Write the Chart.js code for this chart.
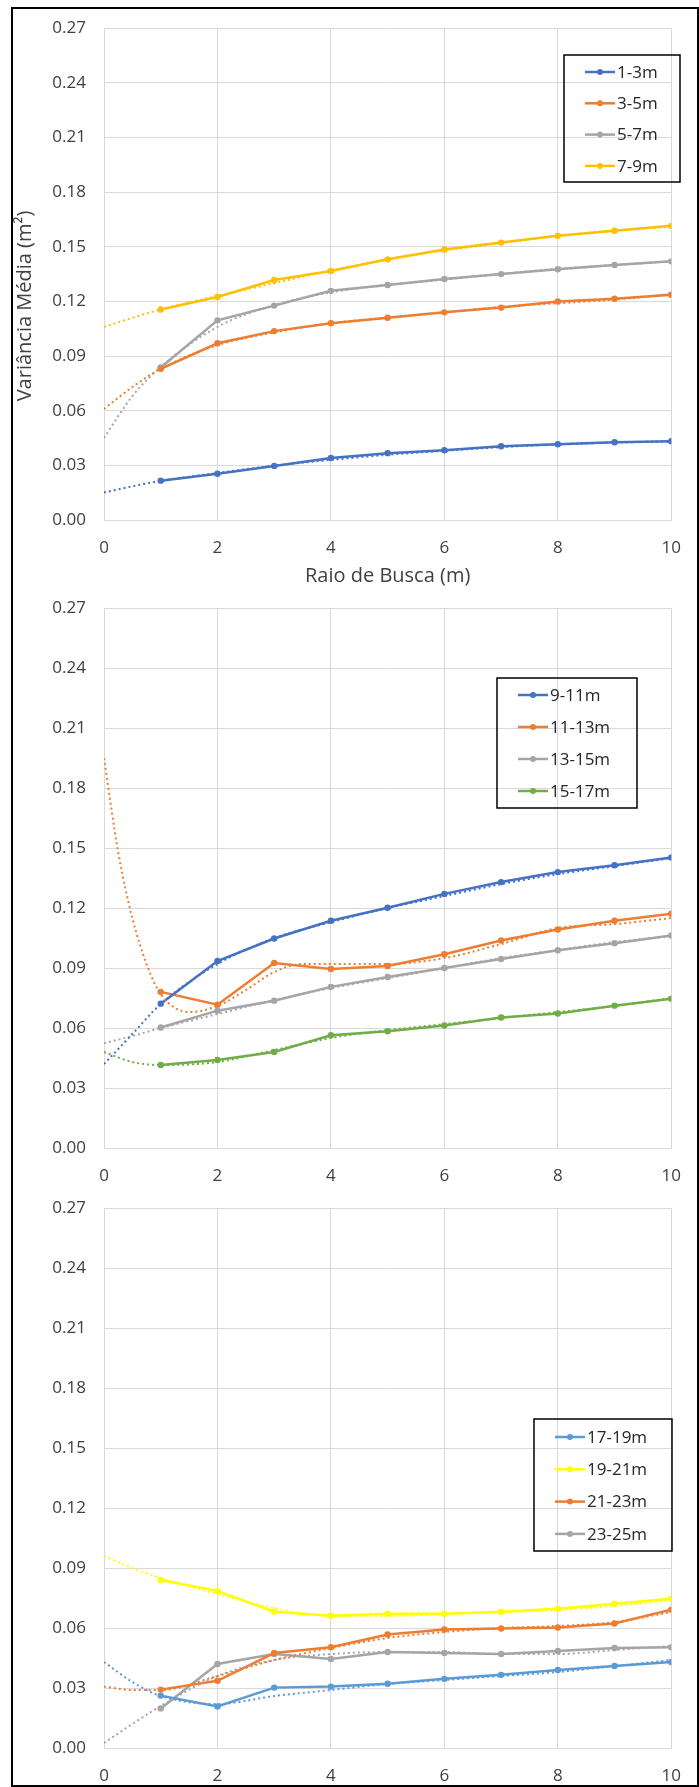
<!DOCTYPE html>
<html>
<head>
<meta charset="utf-8">
<script src="https://cdn.jsdelivr.net/npm/chart.js@4.4.1/dist/chart.umd.min.js"></script>
<style>
    html, body { margin: 0; padding: 0; background: #fff; }
    #page { position: relative; width: 699px; height: 1787px; overflow: hidden; }
    canvas { position: absolute; left: 0; }
    #frame { position: absolute; left: 11px; top: 7px; width: 688px; height: 1780px; border: 2px solid #000; box-sizing: border-box; pointer-events: none; }
</style>
</head>
<body>
<div id="page">
    <canvas id="c1" style="top:0px;width:699px;height:590px" width="699" height="590"></canvas>
    <canvas id="c2" style="top:580px;width:699px;height:620px" width="699" height="620"></canvas>
    <canvas id="c3" style="top:1180px;width:699px;height:607px" width="699" height="607"></canvas>
    <div id="frame"></div>
</div>
<script>
// --- data ---
const radius = [1, 2, 3, 4, 5, 6, 7, 8, 9, 10];
const trendX = [0, 0.5, 1, 2, 3, 4, 5, 6, 7, 8, 9, 10];
const trendXFine = [0, 0.25, 0.5, 0.75, 1, 1.5, 2, 2.5, 3, 3.5, 4, 5, 6, 7, 8, 9, 10];
const xTicks = [0, 2, 4, 6, 8, 10];
const yTicks = [0, 0.03, 0.06, 0.09, 0.12, 0.15, 0.18, 0.21, 0.24, 0.27];

// panel 1
const labels1 = ['1-3m', '3-5m', '5-7m', '7-9m'];
const v1_3 = [0.0216, 0.0254, 0.0297, 0.0340, 0.0367, 0.0383, 0.0405, 0.0416, 0.0427, 0.0432];
const v3_5 = [0.0830, 0.0970, 0.1037, 0.1080, 0.1110, 0.1140, 0.1166, 0.1200, 0.1215, 0.1237];
const v5_7 = [0.0837, 0.1096, 0.1177, 0.1258, 0.1290, 0.1323, 0.1350, 0.1377, 0.1400, 0.1420];
const v7_9 = [0.1156, 0.1224, 0.1318, 0.1367, 0.1431, 0.1485, 0.1523, 0.1560, 0.1588, 0.1615];
const t1_3 = [0.0151, 0.0185, 0.0215, 0.0258, 0.0298, 0.0330, 0.0358, 0.0380, 0.0400, 0.0415, 0.0425, 0.0432];
const t3_5 = [0.0610, 0.0730, 0.0830, 0.0960, 0.1030, 0.1080, 0.1110, 0.1140, 0.1170, 0.1190, 0.1210, 0.1240];
const t5_7 = [0.0450, 0.0680, 0.0840, 0.1060, 0.1180, 0.1250, 0.1290, 0.1320, 0.1350, 0.1380, 0.1400, 0.1420];
const t7_9 = [0.1060, 0.1110, 0.1156, 0.1230, 0.1300, 0.1370, 0.1430, 0.1480, 0.1520, 0.1560, 0.1590, 0.1610];

// panel 2
const labels2 = ['9-11m', '11-13m', '13-15m', '15-17m'];
const v9_11 = [0.0722, 0.0935, 0.1048, 0.1137, 0.1202, 0.1271, 0.1330, 0.1380, 0.1414, 0.1453];
const v11_13 = [0.0781, 0.0717, 0.0925, 0.0895, 0.0910, 0.0969, 0.1038, 0.1093, 0.1137, 0.1172];
const v13_15 = [0.0603, 0.0687, 0.0737, 0.0806, 0.0855, 0.0900, 0.0945, 0.0989, 0.1024, 0.1063];
const v15_17 = [0.0415, 0.0440, 0.0480, 0.0564, 0.0584, 0.0613, 0.0653, 0.0673, 0.0712, 0.0747];
const t9_11 = [0.0420, 0.0570, 0.0720, 0.0920, 0.1050, 0.1130, 0.1200, 0.1260, 0.1320, 0.1370, 0.1410, 0.1450];
const t11_13 = [0.1950, 0.1480, 0.1150, 0.0920, 0.0770, 0.0680, 0.0710, 0.0790, 0.0880, 0.0920, 0.0920, 0.0920, 0.0950, 0.1020, 0.1100, 0.1120, 0.1150];
const t13_15 = [0.0524, 0.0560, 0.0600, 0.0670, 0.0740, 0.0800, 0.0850, 0.0900, 0.0950, 0.0990, 0.1030, 0.1060];
const t15_17 = [0.0480, 0.0430, 0.0415, 0.0430, 0.0490, 0.0550, 0.0590, 0.0620, 0.0650, 0.0680, 0.0710, 0.0750];

// panel 3
const labels3 = ['17-19m', '19-21m', '21-23m', '23-25m'];
const v17_19 = [0.0262, 0.0208, 0.0302, 0.0307, 0.0321, 0.0346, 0.0366, 0.0390, 0.0410, 0.0430];
const v19_21 = [0.0840, 0.0786, 0.0682, 0.0662, 0.0672, 0.0672, 0.0682, 0.0697, 0.0722, 0.0747];
const v21_23 = [0.0292, 0.0336, 0.0475, 0.0504, 0.0568, 0.0593, 0.0598, 0.0603, 0.0623, 0.0692];
const v23_25 = [0.0198, 0.0420, 0.0470, 0.0445, 0.0480, 0.0475, 0.0470, 0.0485, 0.0500, 0.0504];
const t17_19 = [0.0430, 0.0330, 0.0260, 0.0220, 0.0260, 0.0290, 0.0320, 0.0340, 0.0360, 0.0380, 0.0410, 0.0440];
const t19_21 = [0.0960, 0.0900, 0.0850, 0.0770, 0.0700, 0.0660, 0.0660, 0.0670, 0.0680, 0.0690, 0.0710, 0.0740];
const t21_23 = [0.0307, 0.0290, 0.0290, 0.0360, 0.0440, 0.0500, 0.0550, 0.0580, 0.0600, 0.0610, 0.0630, 0.0680];
const t23_25 = [0.0025, 0.0120, 0.0210, 0.0360, 0.0440, 0.0470, 0.0480, 0.0480, 0.0470, 0.0470, 0.0490, 0.0510];

const FONT = '"Open Sans", sans-serif';
const TEXT = '#404040';
const GRID = '#D9D9D9';

function pts(xs, ys) {
    return xs.map((x, i) => ({ x: x, y: ys[i] }));
}

function seriesSet(label, color, values) {
    return {
        label: label,
        data: pts(radius, values),
        borderColor: color,
        backgroundColor: color,
        borderWidth: 2.5,
        pointRadius: 3.2,
        pointBorderWidth: 0,
        tension: 0,
        order: 1
    };
}

function trendSet(color, xs, values) {
    return {
        label: '',
        data: pts(xs, values),
        borderColor: color,
        borderWidth: 2,
        borderDash: [2, 3],
        pointRadius: 0,
        cubicInterpolationMode: 'monotone',
        order: 0
    };
}

// legend box drawn inside the plot, like the Excel one
const boxLegend = {
    id: 'boxLegend',
    afterDatasetsDraw(chart, args, o) {
        const ctx = chart.ctx;
        ctx.save();
        ctx.lineWidth = 1.5;
        ctx.strokeStyle = '#000';
        ctx.strokeRect(o.left, o.top, o.width, o.height);
        ctx.font = '17px ' + FONT;
        ctx.textBaseline = 'middle';
        o.items.forEach((it, i) => {
            const y = o.top + o.first + i * o.gap;
            const x0 = o.left + 21;
            ctx.strokeStyle = it.color;
            ctx.lineWidth = 2.5;
            ctx.beginPath();
            ctx.moveTo(x0, y);
            ctx.lineTo(x0 + 30, y);
            ctx.stroke();
            ctx.fillStyle = it.color;
            ctx.beginPath();
            ctx.arc(x0 + 15, y, 3, 0, Math.PI * 2);
            ctx.fill();
            ctx.fillStyle = '#262626';
            ctx.fillText(it.label, x0 + 32, y + 1);
        });
        ctx.restore();
    }
};

// rotated y title (sits lower than the axis centre in the original)
const yTitle = {
    id: 'yTitle',
    afterDraw(chart, args, o) {
        if (!o.text) return;
        const ctx = chart.ctx;
        ctx.save();
        ctx.translate(o.x, o.y);
        ctx.rotate(-Math.PI / 2);
        ctx.font = '20px ' + FONT;
        ctx.fillStyle = TEXT;
        ctx.textAlign = 'center';
        ctx.textBaseline = 'middle';
        ctx.fillText(o.text, 0, 0);
        ctx.restore();
    }
};

function makeChart(id, datasets, cfg) {
    return new Chart(document.getElementById(id), {
        type: 'line',
        data: { datasets: datasets },
        plugins: [boxLegend, yTitle],
        options: {
            responsive: false,
            animation: false,
            events: [],
            layout: { padding: cfg.padding },
            scales: {
                x: {
                    type: 'linear',
                    min: 0,
                    max: 10,
                    afterBuildTicks: s => { s.ticks = xTicks.map(v => ({ value: v })); },
                    afterFit: s => { s.height = cfg.xHeight; },
                    grid: { color: GRID, lineWidth: 1, drawTicks: false },
                    border: { color: GRID },
                    ticks: { padding: 18, color: TEXT, font: { family: FONT, size: 17 }, maxRotation: 0 },
                    title: {
                        display: !!cfg.xTitle,
                        text: cfg.xTitle || '',
                        color: TEXT,
                        font: { family: FONT, size: 20 },
                        padding: 0
                    }
                },
                y: {
                    type: 'linear',
                    min: 0,
                    max: 0.27,
                    afterBuildTicks: s => { s.ticks = yTicks.map(v => ({ value: v })); },
                    afterFit: s => { s.width = 89; },
                    grid: { color: GRID, lineWidth: 1, drawTicks: false },
                    border: { color: GRID },
                    ticks: {
                        padding: 18,
                        color: TEXT,
                        font: { family: FONT, size: 17 },
                        callback: v => v.toFixed(2)
                    }
                }
            },
            plugins: {
                legend: { display: false },
                tooltip: { enabled: false },
                boxLegend: cfg.legend,
                yTitle: cfg.yTitle || {}
            }
        }
    });
}

const colors1 = ['#4472C4', '#ED7D31', '#A5A5A5', '#FFC000'];
const colors2 = ['#4472C4', '#ED7D31', '#A5A5A5', '#70AD47'];
const colors3 = ['#5B9BD5', '#FFFF00', '#ED7D31', '#A5A5A5'];

makeChart('c1', [
    seriesSet(labels1[0], colors1[0], v1_3),
    seriesSet(labels1[1], colors1[1], v3_5),
    seriesSet(labels1[2], colors1[2], v5_7),
    seriesSet(labels1[3], colors1[3], v7_9),
    trendSet(colors1[0], trendX, t1_3),
    trendSet(colors1[1], trendX, t3_5),
    trendSet(colors1[2], trendX, t5_7),
    trendSet(colors1[3], trendX, t7_9)
], {
    padding: { left: 15, right: 13, top: 20, bottom: 2 },
    xHeight: 68,
    xTitle: 'Raio de Busca (m)',
    yTitle: { text: 'Variância Média (m²)', x: 25, y: 306 },
    legend: {
        left: 564, top: 55, width: 116, height: 127, first: 17, gap: 31.3,
        items: labels1.map((l, i) => ({ label: l, color: colors1[i] }))
    }
});

makeChart('c2', [
    seriesSet(labels2[0], colors2[0], v9_11),
    seriesSet(labels2[1], colors2[1], v11_13),
    seriesSet(labels2[2], colors2[2], v13_15),
    seriesSet(labels2[3], colors2[3], v15_17),
    trendSet(colors2[0], trendX, t9_11),
    trendSet(colors2[1], trendXFine, t11_13),
    trendSet(colors2[2], trendX, t13_15),
    trendSet(colors2[3], trendX, t15_17)
], {
    padding: { left: 15, right: 13, top: 22, bottom: 0 },
    xHeight: 52,
    legend: {
        left: 497, top: 98, width: 140, height: 130, first: 17, gap: 32,
        items: labels2.map((l, i) => ({ label: l, color: colors2[i] }))
    }
});

makeChart('c3', [
    seriesSet(labels3[0], colors3[0], v17_19),
    seriesSet(labels3[1], colors3[1], v19_21),
    seriesSet(labels3[2], colors3[2], v21_23),
    seriesSet(labels3[3], colors3[3], v23_25),
    trendSet(colors3[0], trendX, t17_19),
    trendSet(colors3[1], trendX, t19_21),
    trendSet(colors3[2], trendX, t21_23),
    trendSet(colors3[3], trendX, t23_25)
], {
    padding: { left: 15, right: 13, top: 22, bottom: 0 },
    xHeight: 39,
    legend: {
        left: 534, top: 239, width: 138, height: 132, first: 18, gap: 32.3,
        items: labels3.map((l, i) => ({ label: l, color: colors3[i] }))
    }
});
</script>
</body>
</html>
